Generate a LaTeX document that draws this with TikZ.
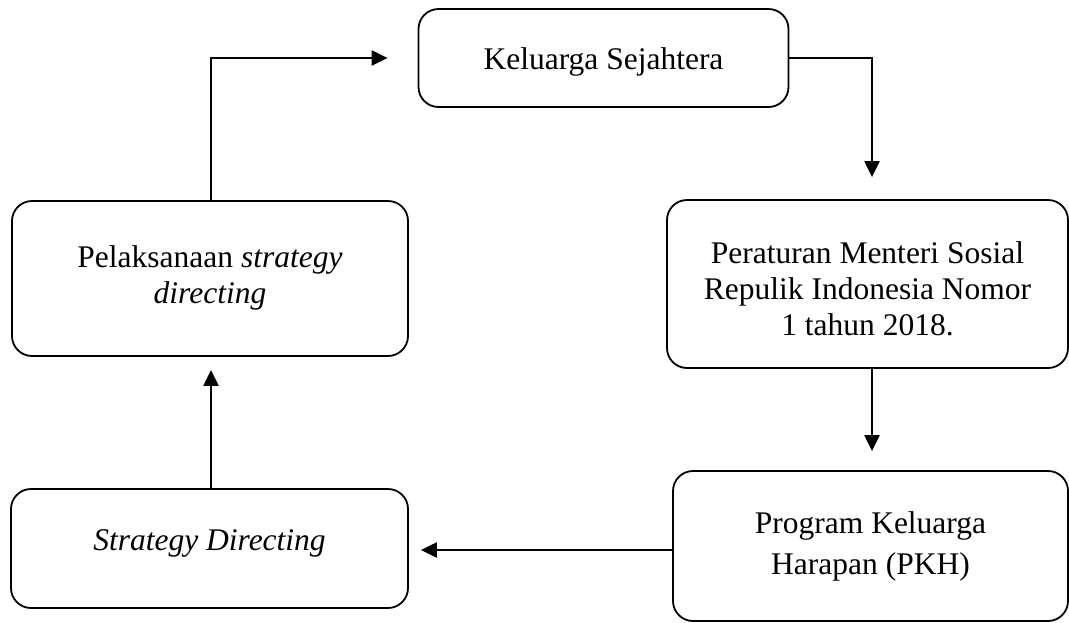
\documentclass[tikz,border=0pt]{standalone}
\usepackage{fontspec}
\setmainfont{Liberation Serif}
\usetikzlibrary{arrows.meta}
\newcommand{\boxlines}[2]{\raisebox{#1}[\height][\depth]{\begin{tabular}{@{}c@{}}#2\end{tabular}}}
\begin{document}
\begin{tikzpicture}[x=1pt,y=-1pt,
  box/.style={draw, line width=1.8pt, rounded corners=20pt, align=center,
    inner sep=0pt, font=\fontsize{31.5}{36}\selectfont},
  arr/.style={line width=2.2pt, -{Triangle[length=16pt,width=15pt]}}]
\useasboundingbox (0,0) rectangle (1069,622);
\node[box, minimum width=370pt, minimum height=98pt] (k) at (603.5,58) {\boxlines{-4pt}{Keluarga Sejahtera}};
\node[box, minimum width=401pt, minimum height=168pt] (p) at (867.5,284) {\boxlines{-8pt}{Peraturan Menteri Sosial\\Repulik Indonesia Nomor\\1 tahun 2018.}};
\node[box, minimum width=395pt, minimum height=150pt, font=\fontsize{31.5}{41}\selectfont] (pkh) at (870.5,546) {Program Keluarga\\Harapan (PKH)};
\node[box, minimum width=397pt, minimum height=119pt] (sd) at (209.5,548.5) {\boxlines{5pt}{\itshape Strategy Directing}};
\node[box, minimum width=396pt, minimum height=155pt] (pl) at (210,278.5) {\boxlines{0pt}{Pelaksanaan \textit{strategy}\\\textit{directing}}};
\draw[arr, shorten >=22pt] (k.east) -| ([xshift=4.5pt]p.north);
\draw[arr, shorten >=19pt] ([xshift=4.5pt]p.south) -- ([xshift=4.5pt]p.south |- pkh.north);
\draw[arr, shorten >=12pt] ([yshift=-4pt]pkh.west) -- ([yshift=-4pt]pkh.west -| sd.east);
\draw[arr, shorten >=13pt] ([xshift=1.5pt]sd.north) -- ([xshift=1.5pt]sd.north |- pl.south);
\draw[arr, shorten >=30pt] ([xshift=1pt]pl.north) |- (k.west);
\end{tikzpicture}
\end{document}
